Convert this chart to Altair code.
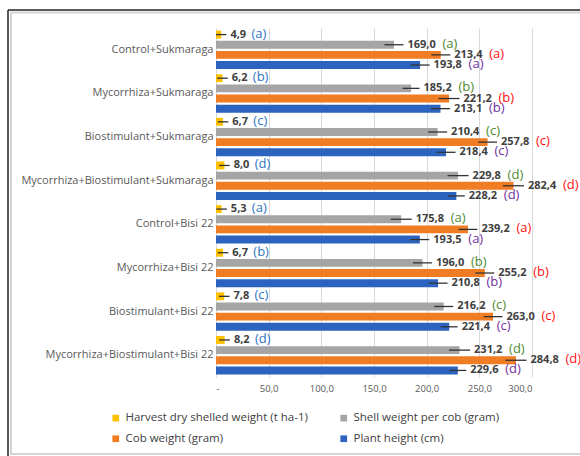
import altair as alt
import pandas as pd

categories = [
    "Control+Sukmaraga",
    "Mycorrhiza+Sukmaraga",
    "Biostimulant+Sukmaraga",
    "Mycorrhiza+Biostimulant+Sukmaraga",
    "Control+Bisi 22",
    "Mycorrhiza+Bisi 22",
    "Biostimulant+Bisi 22",
    "Mycorrhiza+Biostimulant+Bisi 22",
]
series = [
    "Harvest dry shelled weight (t ha-1)",
    "Shell weight per cob (gram)",
    "Cob weight (gram)",
    "Plant height (cm)",
]
harvest = [4.9, 6.2, 6.7, 8.0, 5.3, 6.7, 7.8, 8.2]
shell = [169.0, 185.2, 210.4, 229.8, 175.8, 196.0, 216.2, 231.2]
cob = [213.4, 221.2, 257.8, 282.4, 239.2, 255.2, 263.0, 284.8]
plant = [193.8, 213.1, 218.4, 228.2, 193.5, 210.8, 221.4, 229.6]
# estimated error bar half-widths
harvest_err = [5, 5, 5, 5, 5, 5, 5, 5]
shell_err = [9, 8, 9, 10, 10, 9, 9, 10]
cob_err = [9, 10, 9, 10, 9, 9, 9, 10]
plant_err = [9, 9, 9, 8, 9, 9, 8, 8]
letters = ["a", "b", "c", "d", "a", "b", "c", "d"]

bar_colors = ["#FFC000", "#A5A5A5", "#F07C24", "#2C63BE"]
letter_colors = ["#2E75C6", "#4E8A2E", "#FF1010", "#7030A0"]

rows = []
for s, vals, errs in zip(series, [harvest, shell, cob, plant],
                         [harvest_err, shell_err, cob_err, plant_err]):
    for c, v, e, l in zip(categories, vals, errs, letters):
        rows.append({"category": c, "series": s, "value": v, "err": e,
                     "letter": "(" + l + ")"})
df = pd.DataFrame(rows)

base = alt.Chart(df).transform_calculate(
    lo="datum.value - datum.err",
    hi="datum.value + datum.err",
    label="replace(format(datum.value, '.1f'), '.', ',')",
)

y_enc = alt.Y("category:N", sort=categories, title=None,
              scale=alt.Scale(paddingInner=0.12, paddingOuter=0.06),
              axis=alt.Axis(domain=False, ticks=False, labelPadding=3,
                            labelFontSize=11, labelColor="#595959",
                            labelLimit=300))
yoff = alt.YOffset("series:N", sort=series, scale=alt.Scale(paddingInner=0.22))

bars = base.mark_bar().encode(
    y=y_enc,
    yOffset=yoff,
    x=alt.X("value:Q", title=None,
            scale=alt.Scale(domain=[0, 300], nice=False),
            axis=alt.Axis(values=[0, 50, 100, 150, 200, 250, 300],
                          labelExpr="datum.value == 0 ? '-' : replace(format(datum.value, '.1f'), '.', ',')",
                          grid=True, gridColor="#d9d9d9", domain=False,
                          ticks=False, labelPadding=6, labelFontSize=9.5,
                          labelColor="#595959")),
    color=alt.Color("series:N", sort=series,
                    scale=alt.Scale(domain=series, range=bar_colors),
                    legend=alt.Legend(title=None, orient="none", columns=2,
                                      direction="horizontal",
                                      legendX=-106, legendY=384,
                                      symbolType="square", symbolSize=45,
                                      symbolStrokeWidth=0,
                                      labelFontSize=11.5, labelColor="#404040",
                                      columnPadding=30, rowPadding=8,
                                      labelLimit=300)),
)

errs = base.mark_rule(color="#333333", strokeWidth=1.3).encode(
    y=alt.Y("category:N", sort=categories),
    yOffset=yoff,
    x="lo:Q",
    x2="hi:Q",
)

vlabels = base.mark_text(align="left", baseline="middle", dx=4,
                         fontSize=11, fontWeight="bold",
                         color="#404040").encode(
    y=alt.Y("category:N", sort=categories),
    yOffset=yoff,
    x="hi:Q",
    text="label:N",
)

lt_harvest = base.transform_filter(
    alt.datum.series == series[0]
).mark_text(align="left", baseline="middle", dx=25, dy=-1,
            fontSize=13).encode(
    y=alt.Y("category:N", sort=categories),
    yOffset=yoff,
    x="hi:Q",
    text="letter:N",
    color=alt.Color("series:N", sort=series,
                    scale=alt.Scale(domain=series, range=letter_colors),
                    legend=None),
)

lt_other = base.transform_filter(
    alt.datum.series != series[0]
).mark_text(align="left", baseline="middle", dx=39, dy=-1,
            fontSize=13).encode(
    y=alt.Y("category:N", sort=categories),
    yOffset=yoff,
    x="hi:Q",
    text="letter:N",
    color=alt.Color("series:N", sort=series,
                    scale=alt.Scale(domain=series, range=letter_colors),
                    legend=None),
)

one = alt.Data(values=[{}])
frame_left = alt.Chart(one).mark_rule(color="#222222", strokeWidth=1.5).encode(
    x=alt.value(-208), y=alt.value(-18), y2=alt.value(428))
frame_top = alt.Chart(one).mark_rule(color="#222222", strokeWidth=1.5).encode(
    x=alt.value(-208), x2=alt.value(364), y=alt.value(-18))
inner_left = alt.Chart(one).mark_rule(color="#d4d4d4", strokeWidth=2).encode(
    x=alt.value(-205), y=alt.value(-16), y2=alt.value(426))
inner_top = alt.Chart(one).mark_rule(color="#d4d4d4", strokeWidth=2).encode(
    x=alt.value(-205), x2=alt.value(364), y=alt.value(-15.5))
frame_bottom = alt.Chart(one).mark_rule(color="#d4d4d4", strokeWidth=2).encode(
    x=alt.value(-206), x2=alt.value(364), y=alt.value(426))

chart = alt.layer(
    bars, errs, vlabels, lt_harvest, lt_other,
    frame_left, frame_top, inner_left, inner_top, frame_bottom
).resolve_scale(color="independent").properties(
    width=316, height=349,
    autosize=alt.AutoSizeParams(type="none"),
    padding={"left": 216, "top": 28, "right": 48, "bottom": 79},
    background="white",
).configure(font="Open Sans").configure_view(stroke=None)

chart.save("out.html", embed_options={"renderer": "svg", "actions": False})
